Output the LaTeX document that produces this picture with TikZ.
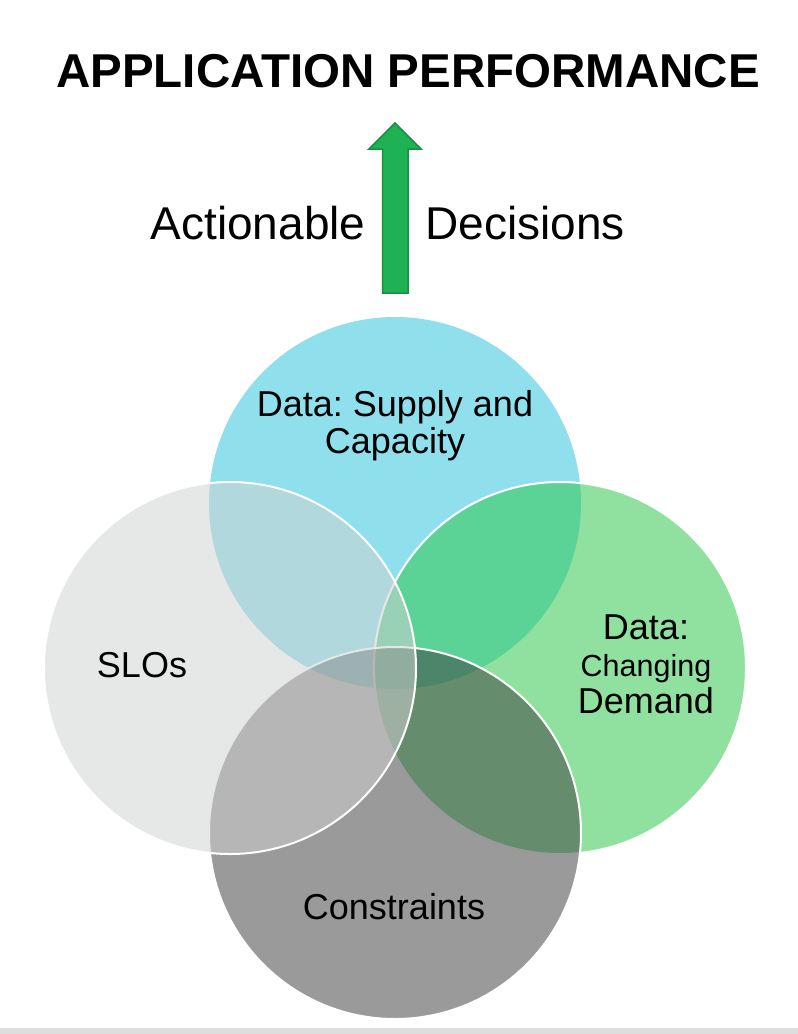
\documentclass[tikz,border=0pt]{standalone}
\usepackage{fontspec}
\setmainfont{Liberation Sans}
\frenchspacing
\definecolor{supplyblue}{RGB}{143,224,236}
\definecolor{demandgreen}{RGB}{49,200,78}
\definecolor{constrgrey}{RGB}{64,64,64}
\definecolor{slogrey}{RGB}{207,209,209}
\definecolor{arrowgreen}{RGB}{31,178,84}
\definecolor{arrowedge}{RGB}{24,145,66}
\definecolor{stripgrey}{RGB}{221,221,221}
\tikzset{
  venn/.style = {circle, minimum size=372pt, inner sep=0pt, draw=white, line width=2pt, fill opacity=0.53},
  venn_t/.style = {circle, minimum size=372pt, inner sep=0pt, fill=supplyblue},
  venn_r/.style = {venn, fill=demandgreen, fill opacity=0.54},
  venn_b/.style = {venn, fill=constrgrey},
  venn_l/.style = {venn, fill=slogrey},
  lbl/.style = {anchor=base, align=center, inner sep=0pt, font=\fontsize{36}{36.7}\selectfont},
  bigarrow/.style = {fill=arrowgreen, draw=arrowedge, line width=1.5pt, line join=miter}
}

\begin{document}
\begin{tikzpicture}[x=1pt, y=-1pt]
    \useasboundingbox (0,0) rectangle (798,1034);
    \fill[stripgrey] (0,1028) rectangle (798,1034);
    \node[venn_t] (supply) at (395,503) {};
    \node[venn_r] (demand) at (560,668) {};
    \node[venn_b] (constr) at (395,833) {};
    \node[venn_l] (slo) at (230,668) {};
    \node[lbl] (supplytxt) at (395,453) {Data: Supply and\\Capacity};
    \node[lbl] (demandtxt) at (646,713) {Data:\\{\fontsize{30.5}{36.7}\selectfont Changing}\\Demand};
    \node[lbl] (constrtxt) at (394,919) {Constraints};
    \node[lbl] (slotxt) at (142,677) {SLOs};
    \draw[bigarrow] (382.5,293) -- (382.5,149) -- (369,149) -- (395,123) coordinate (tip)
        -- (421,149) -- (408,149) -- (408,293) -- cycle;
    \node[lbl, font=\fontsize{46}{50}\selectfont] (act) at (258,239) {Actionable};
    \node[lbl, font=\fontsize{46}{50}\selectfont] (dec) at (525,239) {Decisions};
    \node[lbl, font=\bfseries\fontsize{47.5}{50}\selectfont] (title) at (408,87) {APPLICATION PERFORMANCE};
\end{tikzpicture}
\end{document}
